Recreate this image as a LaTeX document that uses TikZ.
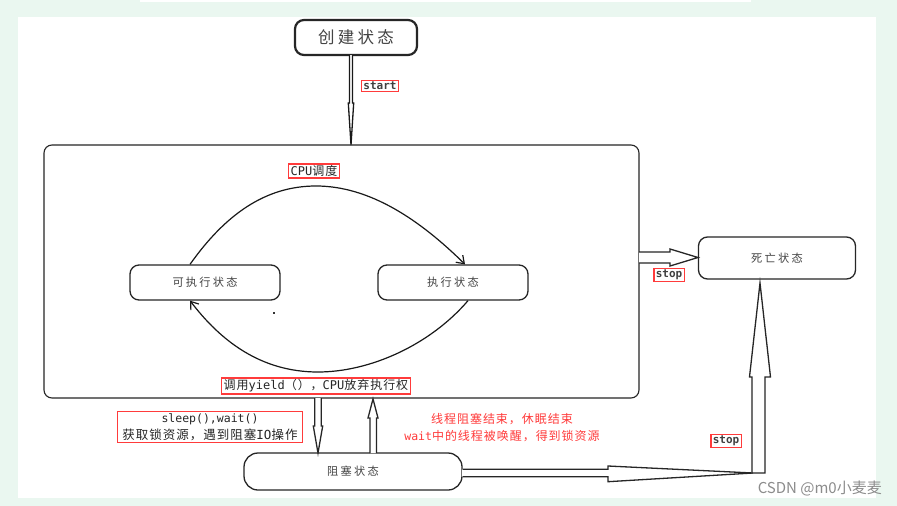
\documentclass[tikz,border=0pt]{standalone}
\usepackage{fontspec}
\setmainfont{Noto Sans CJK SC}
\newfontfamily\mono{DejaVu Sans Mono}
\newfontfamily\cjkw[LetterSpace=20]{Noto Sans CJK SC}
\newfontfamily\cjkl[LetterSpace=8]{Noto Sans CJK SC}
\usetikzlibrary{arrows.meta,calc}
\definecolor{bgg}{HTML}{EAF7F0}
\definecolor{lred}{HTML}{FF3B3B}
\definecolor{stxt}{HTML}{444444}
\begin{document}
\begin{tikzpicture}[x=1pt,y=-1pt,
  statebox/.style={draw=black!85, line width=1.3pt, rounded corners=9pt, fill=white, inner sep=0pt,
    text=stxt, font=\cjkw\fontsize{11.2}{12}\selectfont},
  redlab/.style={draw=lred, line width=1.5pt, fill=white, inner xsep=2pt, inner ysep=1.5pt,
    text=black!85, font=\cjkl\fontsize{12}{13}\selectfont},
  monolab/.style={redlab, font=\mono\bfseries\fontsize{11}{12}\selectfont, text=black!75},
  conn/.style={draw=black!90, line width=1.2pt, -{Straight Barb[length=7pt,width=10pt]}},
  hollow/.style={draw=black!85, line width=1.3pt, fill=white, line join=miter}
]
\useasboundingbox (0,0) rectangle (897,506);
\fill[bgg] (0,0) rectangle (897,506);
\fill[white] (18,17) rectangle (876,498);
\fill[white] (140,0) rectangle (751,1.5);

% states
\node[statebox, minimum width=122pt, minimum height=35pt, line width=2.2pt,
  font=\cjkw\fontsize{16.5}{18}\selectfont] (create) at (356,37.5) {创建状态};
\node[draw=black!85, line width=1.1pt, rounded corners=8pt, minimum width=595pt,
  minimum height=253pt, inner sep=0pt] (big) at (341.5,271.5) {};
\node[statebox, minimum width=150pt, minimum height=35pt] (ready) at (205,282.5) {可执行状态};
\node[statebox, minimum width=150pt, minimum height=35pt] (run) at (453,282.5) {执行状态};
\node[statebox, minimum width=157pt, minimum height=42pt] (dead) at (777,258) {死亡状态};
\node[statebox, minimum width=218pt, minimum height=37pt, rounded corners=14pt] (blk) at (353,471.5) {阻塞状态};

% start arrow (thin hollow)
\filldraw[hollow, line width=1.3pt, draw=black!90] (349.5,55) -- (349.5,103) -- (348.3,103) -- (351,145)
  -- (353.7,103) -- (352.5,103) -- (352.5,55);
\node[monolab] (startlab) at (380,86) {start};

% CPU scheduling arcs
\coordinate (a1) at ($(ready.north)+(-15,0)$);
\coordinate (a2) at ($(run.north)+(12,0)$);
\coordinate (ap) at (316,186);
\draw[conn] (a1) .. controls (225,215) and (265,186) .. (ap)
  .. controls (370,186) and (420,220) .. (a2);
\coordinate (b1) at ($(run.south)+(15,0)$);
\coordinate (b2) at ($(ready.south)+(-15,0)$);
\coordinate (bp) at (318,372);
\draw[conn] (b1) .. controls (430,345) and (370,372) .. (bp)
  .. controls (260,372) and (220,340) .. (b2);
\fill[black!80] (272.5,312) rectangle (275,314);

\node[redlab] (cpulab) at (314,171) {{\mono CPU}调度};
\node[redlab] (yieldlab) at (316,386) {调用{\mono yield}（），{\mono CPU}放弃执行权};

% stop arrow to dead state
\fill[white] (639,252) -- (670,252) -- (670,249) -- (698,257.5) -- (670,266) -- (670,263) -- (639,263) -- cycle;
\draw[hollow, fill=none] (639,252) -- (670,252) -- (670,249) -- (698,257.5) -- (670,266) -- (670,263) -- (639,263);
\node[monolab] (stop1) at (669,275) {stop};

% down / up arrows between big box and blocked state
\fill[white] (314.8,398) -- (314.8,426) -- (313.3,426) -- (318,453) -- (322.7,426) -- (321.2,426) -- (321.2,398) -- cycle;
\draw[hollow, fill=none] (314.8,398) -- (314.8,426) -- (313.3,426) -- (318,453) -- (322.7,426) -- (321.2,426) -- (321.2,398);
\fill[white] (370,453) -- (370,418) -- (368,418) -- (373,399) -- (378,418) -- (376.5,418) -- (376.5,453) -- cycle;
\draw[hollow, fill=none] (370,453) -- (370,418) -- (368,418) -- (373,399) -- (378,418) -- (376.5,418) -- (376.5,453);

\node[redlab, align=center, inner xsep=5pt, inner ysep=2pt,
  font=\cjkl\fontsize{12.5}{17}\selectfont] (sleeplab) at (210,427)
  {{\mono\fontsize{11.5}{17}\selectfont sleep(),wait()}\\获取锁资源，遇到阻塞{\mono IO}操作};
\node[text=lred, align=center, font=\cjkl\fontsize{12}{17}\selectfont] (wake) at (502,428)
  {线程阻塞结束，休眠结束\\{\mono\fontsize{11.5}{17}\selectfont wait}中的线程被唤醒，得到锁资源};

% blocked -> dead (L-shaped hollow arrow)
\fill[white] (462,469.3) -- (608,469.3) -- (608,466) -- (753,473) -- (608,481.7) -- (608,476.7) -- (462,476.7) -- cycle;
\draw[hollow, fill=none] (blk.east |- 0,469.3) -- (608,469.3) -- (608,466) -- (753,473) -- (608,481.7) -- (608,476.7) -- (blk.east |- 0,476.7);
\filldraw[hollow] (752,473) -- (752,377) -- (749.5,377) -- (760,283) -- (770.5,377) -- (765,377) -- (765,473) -- cycle;
\node[monolab] (stop2) at (726,441) {stop};

% watermark
\node[text=black!45, font=\fontsize{15}{16}\selectfont, anchor=east, inner sep=0pt] (wm) at (882,488) {CSDN @m0小麦麦};
\end{tikzpicture}
\end{document}
